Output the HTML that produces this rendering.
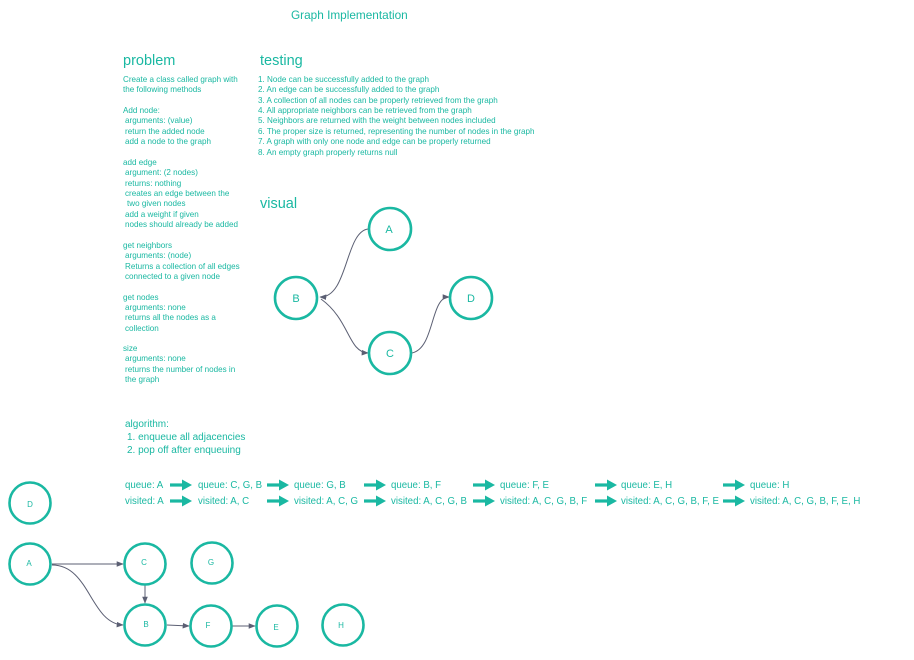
<!DOCTYPE html>
<html><head><meta charset="utf-8"><style>
html,body{margin:0;padding:0;background:#fff;width:914px;height:660px;overflow:hidden}
svg{display:block}
text{font-family:"Liberation Sans",sans-serif;fill:#1ab8a2}
.s{font-size:8.1px}
.m{font-size:9.7px}
.a{font-size:10px}
.n{font-size:8px}
.h{font-size:14.5px}
</style></head><body>
<svg width="914" height="660" viewBox="0 0 914 660" xmlns="http://www.w3.org/2000/svg">
<defs>
<marker id="ar" viewBox="0 0 10 10" refX="9" refY="5" markerWidth="7" markerHeight="7" orient="auto"><path d="M0,1 L10,5 L0,9 z" fill="#5b5f73"/></marker>
<g id="ta"><rect x="0" y="-1.6" width="14" height="3.2" fill="#1ab8a2"/><path d="M12,-5.5 L22,0 L12,5.5 z" fill="#1ab8a2"/></g>
</defs>
<text x="291" y="19" style="font-size:11.8px">Graph Implementation</text>
<text class="h" x="123" y="65">problem</text>
<text class="h" x="260" y="65">testing</text>
<text class="h" x="260" y="208">visual</text>
<g class="s">
<text x="123" y="82">Create a class called graph with</text>
<text x="123" y="92">the following methods</text>
<text x="123" y="113">Add node:</text>
<text x="125" y="123">arguments: (value)</text>
<text x="125" y="134">return the added node</text>
<text x="125" y="144">add a node to the graph</text>
<text x="123" y="165">add edge</text>
<text x="125" y="175">argument: (2 nodes)</text>
<text x="125" y="186">returns: nothing</text>
<text x="125" y="196">creates an edge between the</text>
<text x="127" y="206">two given nodes</text>
<text x="125" y="217">add a weight if given</text>
<text x="125" y="227">nodes should already be added</text>
<text x="123" y="248">get neighbors</text>
<text x="125" y="258">arguments: (node)</text>
<text x="125" y="269">Returns a collection of all edges</text>
<text x="125" y="279">connected to a given node</text>
<text x="123" y="300">get nodes</text>
<text x="125" y="310">arguments: none</text>
<text x="125" y="320">returns all the nodes as a</text>
<text x="125" y="331">collection</text>
<text x="123" y="351">size</text>
<text x="125" y="361">arguments: none</text>
<text x="125" y="372">returns the number of nodes in</text>
<text x="125" y="382">the graph</text>
<text x="258" y="82">1. Node can be successfully added to the graph</text>
<text x="258" y="92">2. An edge can be successfully added to the graph</text>
<text x="258" y="103">3. A collection of all nodes can be properly retrieved from the graph</text>
<text x="258" y="113">4. All appropriate neighbors can be retrieved from the graph</text>
<text x="258" y="123">5. Neighbors are returned with the weight between nodes included</text>
<text x="258" y="134">6. The proper size is returned, representing the number of nodes in the graph</text>
<text x="258" y="144">7. A graph with only one node and edge can be properly returned</text>
<text x="258" y="155">8. An empty graph properly returns null</text>
</g>
<g class="a">
<text x="125" y="427">algorithm:</text>
<text x="127" y="440">1. enqueue all adjacencies</text>
<text x="127" y="453">2. pop off after enqueuing</text>
</g>
<g class="m">
<text x="125" y="488">queue: A</text>
<text x="198" y="488">queue: C, G, B</text>
<text x="294" y="488">queue: G, B</text>
<text x="391" y="488">queue: B, F</text>
<text x="500" y="488">queue: F, E</text>
<text x="621" y="488">queue: E, H</text>
<text x="750" y="488">queue: H</text>
<text x="125" y="504">visited: A</text>
<text x="198" y="504">visited: A, C</text>
<text x="294" y="504">visited: A, C, G</text>
<text x="391" y="504">visited: A, C, G, B</text>
<text x="500" y="504">visited: A, C, G, B, F</text>
<text x="621" y="504">visited: A, C, G, B, F, E</text>
<text x="750" y="504">visited: A, C, G, B, F, E, H</text>
</g>
<g>
<use href="#ta" x="170" y="485"/><use href="#ta" x="170" y="501"/>
<use href="#ta" x="267" y="485"/><use href="#ta" x="267" y="501"/>
<use href="#ta" x="364" y="485"/><use href="#ta" x="364" y="501"/>
<use href="#ta" x="473" y="485"/><use href="#ta" x="473" y="501"/>
<use href="#ta" x="595" y="485"/><use href="#ta" x="595" y="501"/>
<use href="#ta" x="723" y="485"/><use href="#ta" x="723" y="501"/>
</g>
<g fill="none" stroke="#5b5f73" stroke-width="1">
<path d="M368,229 C345,232 348,298 320,297" marker-end="url(#ar)"/>
<path d="M321,299 C350,320 348,352 368,353" marker-end="url(#ar)"/>
<path d="M412,353 C435,348 430,297 449,297" marker-end="url(#ar)"/>
<path d="M52,564 L123,564" marker-end="url(#ar)"/>
<path d="M52,565 C90,565 90,623 123,625" marker-end="url(#ar)"/>
<path d="M145,585 L145,603" marker-end="url(#ar)"/>
<path d="M167,625 L189,626" marker-end="url(#ar)"/>
<path d="M232,626 L255,626" marker-end="url(#ar)"/>
</g>
<g fill="none" stroke="#1ab8a2" stroke-width="2.6">
<circle cx="390" cy="229" r="21"/>
<circle cx="296" cy="298" r="21"/>
<circle cx="390" cy="353" r="21"/>
<circle cx="471" cy="298" r="21"/>
<circle cx="30" cy="503" r="20.5"/>
<circle cx="30" cy="564" r="20.5"/>
<circle cx="145" cy="564" r="20.5"/>
<circle cx="212" cy="563" r="20.5"/>
<circle cx="145" cy="625" r="20.5"/>
<circle cx="211" cy="626" r="20.5"/>
<circle cx="277" cy="626" r="20.5"/>
<circle cx="343" cy="625" r="20.5"/>
</g>
<g style="font-size:11px" text-anchor="middle">
<text x="389" y="233">A</text>
<text x="296" y="302">B</text>
<text x="390" y="357">C</text>
<text x="471" y="302">D</text>
</g>
<g class="n" text-anchor="middle">
<text x="30" y="507">D</text>
<text x="29" y="566">A</text>
<text x="144" y="565">C</text>
<text x="211" y="565">G</text>
<text x="146" y="627">B</text>
<text x="208" y="628">F</text>
<text x="276" y="630">E</text>
<text x="341" y="628">H</text>
</g>
</svg>
</body></html>
